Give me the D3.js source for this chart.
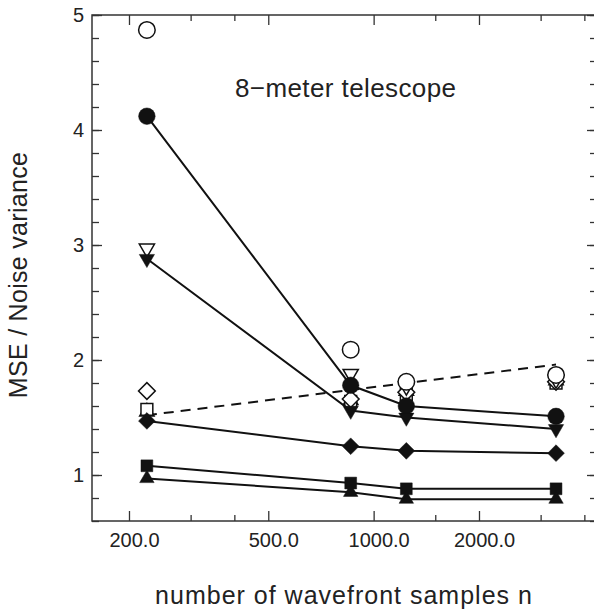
<!DOCTYPE html>
<html>
<head>
<meta charset="utf-8">
<script src="https://cdn.jsdelivr.net/npm/d3@7"></script>
<style>
  body { margin: 0; background: #fff; }
  text { font-family: "Liberation Sans", Arial, Helvetica, sans-serif; fill: #222; }
</style>
</head>
<body>
<svg id="chart" width="594" height="612"></svg>
<script>
"use strict";

// number of wavefront samples (x positions of the four columns)
const nSamples = [225, 860, 1240, 3320];

// filled markers, joined by solid lines
const filledCircle = [4.12, 1.78, 1.60, 1.51];
const filledTriDown = [2.88, 1.56, 1.50, 1.40];
const filledDiamond = [1.47, 1.25, 1.21, 1.19];
const filledSquare = [1.08, 0.93, 0.88, 0.88];
const filledTriUp = [0.97, 0.85, 0.79, 0.79];

// open markers, no lines
const openCircle = [4.87, 2.09, 1.81, 1.87];
const openTriDown = [2.97, 1.88, 1.77, 1.83];
const openDiamond = [1.73, 1.66, 1.72, 1.81];
const openSquare = [1.57, 1.64, 1.70, 1.80];
const openTriUp = [1.55, 1.65, 1.73, 1.82];

// dashed reference line
const dashedN = [225, 3320];
const dashedVals = [1.52, 1.96];

// ticks
const xMajor = [200, 500, 1000, 2000];
const xMinor = [300, 400, 1500, 3000, 4000];
const yMajor = [1, 2, 3, 4, 5];
const yMinor = d3.range(6, 51, 2).map(d => d / 10);

const margin = { left: 92, right: 597, top: 15, bottom: 521 };

const svg = d3.select("#chart");

const x = d3.scaleLog().domain([156.8, 4347]).range([margin.left, margin.right]);
const y = d3.scaleLinear().domain([0.6, 5.0]).range([margin.bottom, margin.top]);

// frame
svg.append("rect")
  .attr("x", margin.left).attr("y", margin.top)
  .attr("width", margin.right - margin.left)
  .attr("height", margin.bottom - margin.top)
  .attr("fill", "none").attr("stroke", "#333").attr("stroke-width", 1.5);

// helper to draw an axis without domain line
function drawAxis(axis, tx, ty) {
  const g = svg.append("g").attr("transform", "translate(" + tx + "," + ty + ")").call(axis);
  g.select(".domain").remove();
  g.selectAll(".tick line").attr("stroke", "#333").attr("stroke-width", 1.3);
  return g;
}

// bottom axis
const xb = drawAxis(d3.axisBottom(x).tickValues(xMajor).tickSize(-10).tickPadding(12)
  .tickFormat(d3.format(".1f")), 0, margin.bottom);
xb.selectAll("text").attr("font-size", 20).attr("dx", 5).attr("font-family", "Liberation Sans").attr("fill", "#222");
drawAxis(d3.axisBottom(x).tickValues(xMinor).tickSize(-6).tickFormat(""), 0, margin.bottom);

// top axis
drawAxis(d3.axisTop(x).tickValues(xMajor).tickSize(-10).tickFormat(""), 0, margin.top);
drawAxis(d3.axisTop(x).tickValues(xMinor).tickSize(-6).tickFormat(""), 0, margin.top);

// left axis
const yl = drawAxis(d3.axisLeft(y).tickValues(yMajor).tickSize(-10).tickPadding(8)
  .tickFormat(d3.format("d")), margin.left, 0);
yl.selectAll("text").attr("font-size", 20).attr("font-family", "Liberation Sans").attr("fill", "#222");
drawAxis(d3.axisLeft(y).tickValues(yMinor).tickSize(-7).tickFormat(""), margin.left, 0);

// right axis
drawAxis(d3.axisRight(y).tickValues(yMajor).tickSize(-10).tickFormat(""), margin.right, 0);
drawAxis(d3.axisRight(y).tickValues(yMinor).tickSize(-7).tickFormat(""), margin.right, 0);

// dashed line
const line = d3.line().x(d => x(d[0])).y(d => y(d[1]));
svg.append("path")
  .datum(d3.zip(dashedN, dashedVals))
  .attr("d", line)
  .attr("fill", "none").attr("stroke", "#111").attr("stroke-width", 2)
  .attr("stroke-dasharray", "10,7");

// series definitions
const filledSeries = [
  { vals: filledCircle, shape: "circle" },
  { vals: filledTriDown, shape: "tridown" },
  { vals: filledDiamond, shape: "diamond" },
  { vals: filledSquare, shape: "square" },
  { vals: filledTriUp, shape: "triup" }
];
const openSeries = [
  { vals: openTriUp, shape: "triup" },
  { vals: openSquare, shape: "square" },
  { vals: openDiamond, shape: "diamond" },
  { vals: openTriDown, shape: "tridown" },
  { vals: openCircle, shape: "circle" }
];

function symbolFor(shape) {
  if (shape === "circle") return { path: d3.symbol(d3.symbolCircle, 215)(), rot: 0 };
  if (shape === "square") return { path: d3.symbol(d3.symbolSquare, 140)(), rot: 0 };
  if (shape === "diamond") return { path: d3.symbol(d3.symbolSquare, 140)(), rot: 45 };
  if (shape === "triup") return { path: d3.symbol(d3.symbolTriangle, 90)(), rot: 0 };
  return { path: d3.symbol(d3.symbolTriangle, 100)(), rot: 180 };
}

function drawMarkers(series, filled) {
  const s = symbolFor(series.shape);
  svg.append("g").selectAll("path")
    .data(d3.zip(nSamples, series.vals))
    .enter().append("path")
    .attr("d", s.path)
    .attr("transform", d => "translate(" + x(d[0]) + "," + y(d[1]) + ") rotate(" + s.rot + ")")
    .attr("fill", filled ? "#111" : "#fff")
    .attr("stroke", "#111")
    .attr("stroke-width", filled ? 0.5 : 1.5);
}

// open markers first, filled ones drawn on top
openSeries.forEach(s => drawMarkers(s, false));

filledSeries.forEach(s => {
  svg.append("path")
    .datum(d3.zip(nSamples, s.vals))
    .attr("d", line)
    .attr("fill", "none").attr("stroke", "#111").attr("stroke-width", 2);
  drawMarkers(s, true);
});

// annotation
svg.append("text")
  .attr("x", 235).attr("y", 97)
  .attr("font-size", 26)
  .attr("letter-spacing", 0.4)
  .text("8\u2212meter telescope");

// axis titles
svg.append("text")
  .attr("x", 344).attr("y", 604)
  .attr("text-anchor", "middle")
  .attr("font-size", 25)
  .attr("letter-spacing", 1)
  .text("number of wavefront samples n");

svg.append("text")
  .attr("transform", "translate(27,275) rotate(-90)")
  .attr("text-anchor", "middle")
  .attr("font-size", 25)
  .attr("letter-spacing", 0.3)
  .text("MSE / Noise variance");
</script>
</body>
</html>
